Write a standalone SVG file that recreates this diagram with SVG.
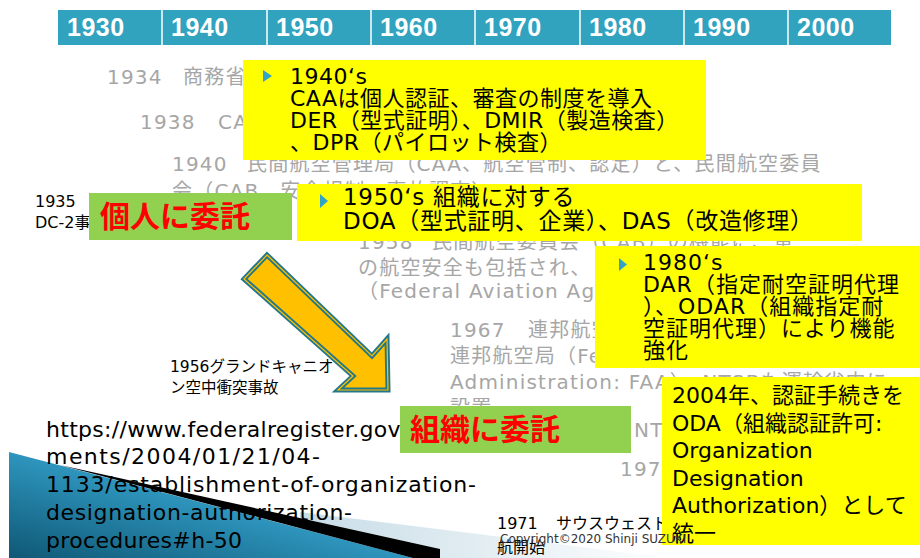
<svg xmlns="http://www.w3.org/2000/svg" width="920" height="558" viewBox="0 0 920 558">
<style>
text{font-family:"DejaVu Sans","Noto Sans CJK JP",sans-serif}
.yr{font-family:"Liberation Sans",Arial,sans-serif;font-weight:bold;font-size:25px;fill:#fff;letter-spacing:0.5px}
.gr{font-size:20px;fill:#A6A6A6;letter-spacing:1.2px}
.bk{fill:#000}
.yb{fill:#FFFF00}
.gb{fill:#92D050}
.red{font-family:"Noto Sans CJK JP",sans-serif;font-weight:bold;font-size:30px;fill:#FF0000}
.bul{fill:#31A3C4}
.t22{font-size:22px;fill:#000}
.url{font-size:22px;fill:#000}
</style>
<defs>
<linearGradient id="teal" x1="0" y1="1" x2="1" y2="0">
<stop offset="0" stop-color="#0F5875"/>
<stop offset="0.5" stop-color="#2E95BD"/>
<stop offset="1" stop-color="#6CC0DF"/>
</linearGradient>
<linearGradient id="pale" x1="0" y1="0" x2="1" y2="0">
<stop offset="0" stop-color="#C7DCE6"/>
<stop offset="1" stop-color="#FFFFFF"/>
</linearGradient>
</defs>
<rect width="920" height="558" fill="#fff"/>

<g id="timeline">
<rect x="58" y="10" width="833" height="35" fill="#31A3BF"/>
<g stroke="#fff" stroke-width="1.5">
<line x1="162" y1="10" x2="162" y2="45"/><line x1="267" y1="10" x2="267" y2="45"/>
<line x1="371" y1="10" x2="371" y2="45"/><line x1="475" y1="10" x2="475" y2="45"/>
<line x1="580" y1="10" x2="580" y2="45"/><line x1="684" y1="10" x2="684" y2="45"/>
<line x1="788" y1="10" x2="788" y2="45"/>
</g>
<text class="yr" x="67" y="36">1930</text>
<text class="yr" x="171" y="36">1940</text>
<text class="yr" x="276" y="36">1950</text>
<text class="yr" x="380" y="36">1960</text>
<text class="yr" x="484" y="36">1970</text>
<text class="yr" x="589" y="36">1980</text>
<text class="yr" x="693" y="36">1990</text>
<text class="yr" x="797" y="36">2000</text>
</g>

<g id="decoration">
<polygon points="300,512 670,558 300,558" fill="url(#pale)"/>
<polygon points="9,452 413,558 9,558" fill="url(#teal)"/>
<polygon points="60,465 440,549 440,558 413,558" fill="#000"/>
</g>

<g id="history-text">
<text class="gr" y="84"><tspan x="107">1934</tspan><tspan x="183">商務省</tspan></text>
<text class="gr" y="129"><tspan x="140">1938</tspan><tspan x="218">CAA</tspan></text>
<text class="gr" y="171"><tspan x="172">1940</tspan><tspan x="247">民間航空管理局（CAA、航空管制、認定）と、民間航空委員</tspan></text>
<text class="gr" x="172" y="198">会（CAB、安全規制、事故調査）</text>
<text class="gr" y="249"><tspan x="358">1958</tspan><tspan x="432">民間航空委員会（CAB）の機能に、軍</tspan></text>
<text class="gr" x="358" y="275">の航空安全も包括され、</text>
<text class="gr" x="358" y="298">（Federal Aviation Agency）</text>
<text class="gr" y="337"><tspan x="450">1967</tspan><tspan x="528">連邦航空庁は</tspan></text>
<text class="gr" x="450" y="363">連邦航空局（Federal Aviation</text>
<text class="gr" x="450" y="389">Administration: FAA）、NTSBも運輸省内に</text>
<text class="gr" x="450" y="415">設置</text>
<text class="gr" x="634" y="437">NTSB</text>
<text class="gr" x="620" y="476">1975</text>
</g>

<g id="note-1935">
<text class="bk" font-size="16" x="35" y="207">1935</text>
<text class="bk" font-size="16" x="35" y="228">DC-2事故</text>
</g>

<g id="note-1956">
<text class="bk" font-size="15.5" x="170" y="372">1956グランドキャニオ</text>
<text class="bk" font-size="15.5" x="170" y="393">ン空中衝突事故</text>
</g>

<g id="url">
<text class="url" x="46" y="437" letter-spacing="0.3">https://www.federalregister.gov/docu</text>
<text class="url" x="46" y="464" textLength="274" lengthAdjust="spacing">ments/2004/01/21/04-</text>
<text class="url" x="46" y="492" textLength="430" lengthAdjust="spacing">1133/establishment-of-organization-</text>
<text class="url" x="46" y="520" textLength="306" lengthAdjust="spacing">designation-authorization-</text>
<text class="url" x="46" y="548" textLength="196" lengthAdjust="spacing">procedures#h-50</text>
</g>

<g id="note-1971">
<text class="bk" font-size="16" y="529"><tspan x="497">1971</tspan><tspan x="556">サウスウェスト航空運</tspan></text>
<text class="bk" font-size="16" x="497" y="553">航開始</text>
</g>

<g id="box-1940s">
<rect class="yb" x="243" y="60" width="463" height="100"/>
<polygon class="bul" points="263,70 272,76 263,82"/>
<text class="t22" x="290" letter-spacing="0.5"><tspan x="290" y="84">1940‘s</tspan><tspan x="290" y="106">CAAは個人認証、審査の制度を導入</tspan><tspan x="290" y="128">DER（型式証明）、DMIR（製造検査）</tspan><tspan x="290" y="150">、DPR（パイロット検査）</tspan></text>
</g>

<g id="box-1950s">
<rect class="yb" x="297" y="184" width="565" height="57"/>
<polygon class="bul" points="320,194 328,201 320,208"/>
<text font-size="23" fill="#000" letter-spacing="0.7"><tspan x="343" y="205">1950‘s 組織に対する</tspan><tspan x="343" y="229">DOA（型式証明、企業）、DAS（改造修理）</tspan></text>
</g>

<g id="box-1980s">
<rect class="yb" x="595" y="246" width="325" height="122"/>
<polygon class="bul" points="619,258 627,264.5 619,271"/>
<text class="t22" letter-spacing="1"><tspan x="643" y="270">1980‘s</tspan><tspan x="643" y="292">DAR（指定耐空証明代理</tspan><tspan x="643" y="314">）、ODAR（組織指定耐</tspan><tspan x="643" y="336">空証明代理）により機能</tspan><tspan x="643" y="358">強化</tspan></text>
</g>

<g id="box-2004">
<rect class="yb" x="662" y="377" width="258" height="168"/>
<text class="t22"><tspan x="672" y="403">2004年、認証手続きを</tspan><tspan x="672" y="430.5">ODA（組織認証許可:</tspan><tspan x="672" y="458">Organization</tspan><tspan x="672" y="485.5">Designation</tspan><tspan x="672" y="513">Authorization）として</tspan><tspan x="672" y="540.5">統一</tspan></text>
</g>

<g id="label-individual">
<rect class="gb" x="89" y="193" width="203" height="47"/>
<text class="red" x="100" y="227">個人に委託</text>
</g>

<g id="label-organization">
<rect class="gb" x="400" y="406" width="231" height="47"/>
<text class="red" x="410" y="440">組織に委託</text>
</g>

<g id="connectors">
<polygon points="267,255 372,356 387,339 388,390 338,390 353,376 244,279" fill="#FFC000" stroke="#23778A" stroke-width="5" stroke-linejoin="miter"/>
<polygon points="267,255 372,356 387,339 388,390 338,390 353,376 244,279" fill="none" stroke="#FFC000" stroke-width="1.2"/>
</g>

<g id="copyright">
<text x="500" y="543" font-size="12" fill="#333">Copyright©2020 Shinji SUZUKI</text>
</g>
</svg>
